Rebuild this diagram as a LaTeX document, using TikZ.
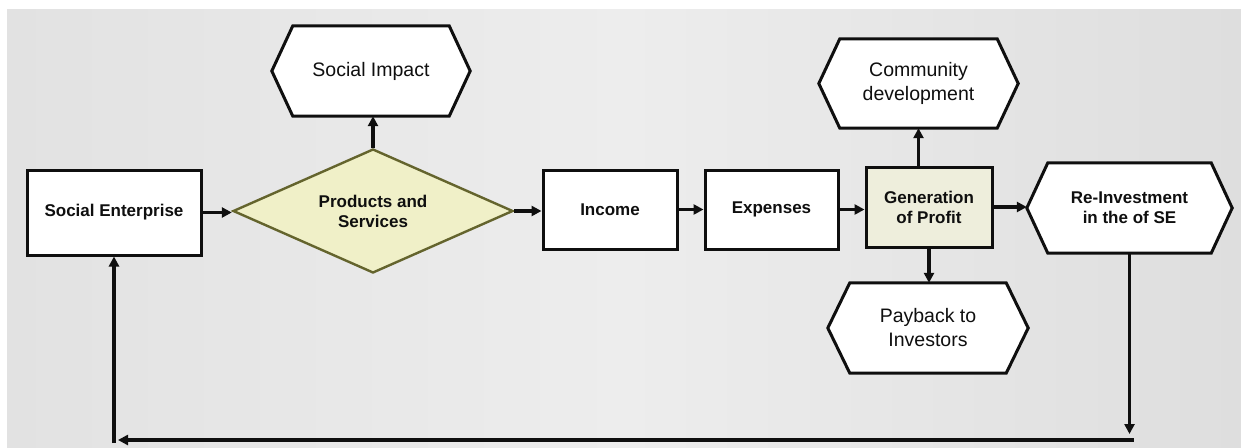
\documentclass[tikz,border=0pt]{standalone}
\usepackage{fontspec}
\setmainfont{Liberation Sans}
\usetikzlibrary{shapes.geometric,arrows.meta}
\definecolor{bgl}{RGB}{226,226,226}
\definecolor{bgm}{RGB}{237,237,237}
\definecolor{bgr}{RGB}{222,222,222}
\definecolor{dfill}{RGB}{240,240,200}
\definecolor{dline}{RGB}{100,100,45}
\definecolor{gfill}{RGB}{238,238,220}
\definecolor{ink}{RGB}{15,15,15}
\newcommand\hexo[2]{\draw[hexline] (#1.west) -- ([xshift=#2]#1.north west) -- ([xshift=-#2]#1.north east) -- (#1.east) -- ([xshift=-#2]#1.south east) -- ([xshift=#2]#1.south west) -- cycle;}
\begin{document}
\begin{tikzpicture}[x=1pt,y=-1pt,
  box/.style={draw=ink,line width=3pt,fill=white,inner sep=2pt,align=center,text=ink,
    font=\fontsize{17}{20}\selectfont\bfseries},
  hexbox/.style={inner sep=2pt,align=center,text=ink,font=\fontsize{19.5}{24}\selectfont},
  hexline/.style={draw=ink,line width=3pt,fill=white,line join=miter},
  arr/.style={draw=ink,line width=3.2pt,-{Triangle[length=10pt,width=10pt]}}]
\useasboundingbox (0,0) rectangle (1241,447);
\fill[white] (0,0) rectangle (1241,447);
\shade[left color=bgl,right color=bgr,middle color=bgm] (7,9) rectangle (1241,447);
% nodes
\node[box,minimum width=174,minimum height=85] (se) at (114,212.5) {Social Enterprise};
\node[box,diamond,draw=dline,line width=2.4pt,fill=dfill,aspect=2.26,minimum width=280,minimum height=124,inner sep=0pt] (dia) at (373,211) {Products and\\Services};
\node[hexbox,minimum width=198,minimum height=90] (si) at (371,71) {};
\hexo{si}{21}
\node[hexbox] at (si) {Social Impact};
\node[box,minimum width=134,minimum height=79] (inc) at (610,209.5) {Income};
\node[box,minimum width=133,minimum height=79] (exp) at (771.5,209.5) {Expenses};
\node[box,fill=gfill,minimum width=126,minimum height=80] (gen) at (929,207) {Generation\\of Profit};
\node[hexbox,minimum width=199,minimum height=89] (cd) at (918.5,83.5) {};
\hexo{cd}{21}
\node[hexbox] at (cd) {Community\\development};
\node[hexbox,minimum width=200,minimum height=90] (pb) at (928,328) {};
\hexo{pb}{22}
\node[hexbox] at (pb) {Payback to\\Investors};
\node[hexbox,minimum width=205,minimum height=90] (ri) at (1129.5,208) {};
\hexo{ri}{21}
\node[box,draw=none,fill=none] at (ri) {Re-Investment\\in the of SE};
\coordinate (b1) at (0,434);
\coordinate (b2) at (0,440);
\coordinate (b3) at (0,443);
% connectors
\draw[arr] (se.east) -- (se.east -| dia.west);
\draw[arr] (dia.north) -- (dia.north |- si.south);
\draw[arr] (dia.east) -- (dia.east -| inc.west);
\draw[arr] (inc.east) -- (exp.west);
\draw[arr] (exp.east) -- (exp.east -| gen.west);
\draw[arr] (cd.south |- gen.north) -- (cd.south);
\draw[arr] (gen.south) -- (gen.south |- pb.north);
\draw[arr] (gen.east) -- (gen.east -| ri.west);
\draw[arr] (ri.south) -- (ri.south |- b1);
\draw[arr] ([xshift=4]ri.south |- b2) -- ([xshift=4]se.south |- b2);
\draw[arr] (se.south |- b3) -- (se.south);
\end{tikzpicture}
\end{document}
